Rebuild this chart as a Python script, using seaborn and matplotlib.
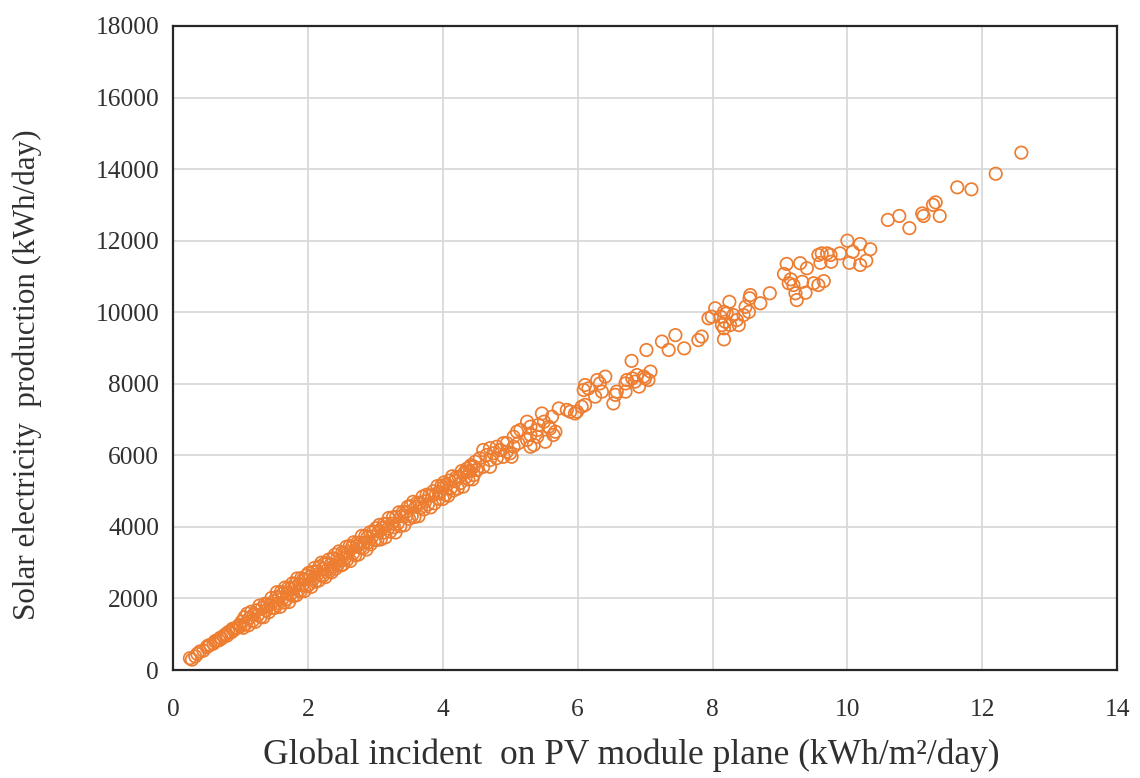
import matplotlib
matplotlib.use("Agg")
import matplotlib.pyplot as plt
import seaborn as sns
import pandas as pd

# ---- data ----
x_a = [0.25, 0.28, 0.33, 0.36, 0.40, 0.45, 0.50, 0.52, 0.55, 0.60, 0.62, 0.64, 0.68, 0.70, 0.72, 0.75, 0.78, 0.80, 0.82, 0.86,
       0.88, 0.90, 0.92, 0.95, 0.98, 1.00,
       1.02, 1.04, 1.06, 1.08, 1.10, 1.12, 1.14, 1.16, 1.18, 1.20, 1.22, 1.24, 1.26, 1.28, 1.30, 1.32, 1.34, 1.36, 1.38, 1.40,
       1.42, 1.44, 1.46, 1.48, 1.50]
y_a = [330, 290, 380, 450, 520, 540, 640, 680, 700, 740, 800, 820, 830, 900, 880, 950, 1000, 960, 1060, 1050,
       1150, 1110, 1170, 1180, 1260, 1220,
       1355, 1180, 1475, 1290, 1575, 1250, 1465, 1630, 1375, 1560, 1345, 1670, 1535, 1800, 1485, 1730, 1475, 1850, 1665, 1850,
       1615, 1830, 2015, 1740, 1925]

x_b = [1.51, 1.53, 1.54, 1.56, 1.57, 1.59, 1.60, 1.62, 1.63, 1.65, 1.66, 1.68, 1.69, 1.71, 1.72, 1.74, 1.75, 1.77, 1.78, 1.80,
       1.81, 1.83, 1.84, 1.86, 1.87, 1.89, 1.90, 1.92, 1.93, 1.95, 1.96, 1.98, 1.99,
       2.01, 2.02, 2.04, 2.05, 2.07, 2.08, 2.10, 2.11, 2.13, 2.14, 2.16, 2.17, 2.19, 2.20, 2.22, 2.23, 2.25, 2.26, 2.28, 2.29,
       2.31, 2.32, 2.34, 2.35, 2.37, 2.38, 2.40, 2.41, 2.43, 2.44, 2.46, 2.47, 2.49]
y_b = [1738, 2033, 2175, 1870, 2023, 1768, 2180, 1985, 2138, 1883, 2305, 1980, 2133, 2298, 1900, 2265, 2128, 2423, 2065, 2290,
       2403, 2088, 2560, 2225, 2408, 2193, 2565, 2370, 2533, 2208, 2530, 2645, 2348,
       2713, 2395, 2610, 2323, 2738, 2550, 2855, 2468, 2753, 2665, 2500, 2893, 2648, 3000, 2625, 2828, 2983, 2595, 2960, 2803,
       3088, 2760, 2955, 2728, 3123, 2895, 3220, 2833, 3098, 2930, 3315, 3058, 2923]

x_c = [2.51, 2.52, 2.54, 2.55, 2.57, 2.58, 2.60, 2.62, 2.63, 2.65, 2.67, 2.68, 2.70, 2.72, 2.73, 2.75, 2.77, 2.78, 2.80, 2.82,
       2.83, 2.85, 2.87, 2.88, 2.90, 2.92, 2.93, 2.95, 2.97, 2.99,
       3.01, 3.03, 3.05, 3.06, 3.08, 3.10, 3.12, 3.13, 3.15, 3.17, 3.19, 3.20, 3.22, 3.24, 3.26, 3.28, 3.30, 3.31, 3.33, 3.35,
       3.37, 3.39, 3.41, 3.43, 3.45, 3.46, 3.48, 3.50]
y_c = [3288, 2950, 3255, 3128, 3443, 3075, 3280, 3465, 3048, 3423, 3258, 3570, 3205, 3450, 3553, 3228, 3553, 3425, 3750, 3405,
       3558, 3743, 3368, 3700, 3565, 3850, 3513, 3728, 3873, 3638,
       3963, 3638, 3873, 4055, 3650, 3965, 3840, 4083, 3708, 4083, 3958, 4250, 3865, 4090, 4265, 3990, 3845, 4278, 4093, 4408,
       4023, 4298, 4413, 4048, 4413, 4305, 4560, 4225]

x_d = [3.52, 3.54, 3.56, 3.58, 3.60, 3.62, 3.64, 3.66, 3.68, 3.70, 3.72, 3.74, 3.76, 3.78, 3.80, 3.82, 3.84, 3.86, 3.88, 3.90,
       3.92, 3.94, 3.96, 3.98, 4.00, 4.00,
       4.02, 4.04, 4.06, 4.08, 4.10, 4.12, 4.14, 4.16, 4.18, 4.20, 4.22, 4.24, 4.26, 4.28, 4.30, 4.32, 4.34, 4.36, 4.38, 4.40,
       4.42, 4.44, 4.46, 4.50]
y_d = [4580, 4305, 4700, 4275, 4560, 4675, 4300, 4675, 4550, 4845, 4490, 4715, 4900, 4625, 4880, 4545, 4880, 4995, 4660, 4925,
       5140, 4785, 4970, 5155, 4780, 5090,
       5245, 4900, 5175, 4870, 5295, 5090, 5415, 5020, 5275, 5390, 5075, 5390, 5225, 5560, 5125, 5520, 5385, 5630, 5325, 5560,
       5725, 5330, 5685, 5595]

x_e = [4.48, 4.41, 4.51, 4.60, 4.36, 4.70, 4.46, 4.55, 4.60, 4.65, 4.70, 4.75, 4.80, 4.80, 4.85, 4.90, 4.90, 4.95, 4.95, 5.02,
       5.05, 5.00, 4.70,
       5.10, 5.05, 5.12, 5.25, 5.30, 5.35, 5.25, 5.30, 5.40, 5.59, 5.64, 5.52, 5.30, 5.40, 5.47, 5.62, 5.50, 5.72, 5.67, 5.57,
       5.42, 5.15,
       5.89, 5.96, 5.84, 6.06, 6.11, 5.99, 6.11, 6.16, 6.09, 6.29, 6.33, 6.36, 6.26, 6.41,
       6.53, 6.56, 6.58, 6.71, 6.73, 6.71, 6.81, 6.88, 6.98, 6.85, 6.91, 7.05, 7.00, 7.08, 6.80, 7.02,
       7.25, 7.35, 7.45, 7.58, 7.79, 7.84]
y_e = [5820, 5680, 5590, 5680, 5540, 5680, 5450, 5920, 6150, 6010, 6200, 6060, 6240, 5920, 6150, 6340, 5960, 6100, 6340, 5960,
       6240, 6060, 5870,
       6660, 6520, 6340, 6430, 6240, 6290, 6940, 6800, 6710, 6750, 6570, 6380, 6570, 6520, 7170, 7080, 6940, 7310, 6660, 6800,
       6850, 6710,
       7220, 7170, 7270, 7360, 7410, 7220, 7965, 7870, 7825, 8105, 8010, 7780, 7640, 8200,
       7450, 7690, 7780, 7780, 8105, 8010, 8150, 8245, 8200, 8060, 7920, 8105, 8150, 8340, 8640, 8944,
       9180, 8945, 9360, 8990, 9220, 9320]

x_f = [7.94, 8.04, 8.25, 8.17, 7.99, 8.12, 8.21, 8.31, 8.36, 8.19, 8.14, 8.26, 8.17, 8.39, 8.17, 8.56, 8.55, 8.71, 8.49, 8.54,
       8.46, 8.85,
       9.06, 9.16, 9.20, 9.13, 9.33, 9.50, 9.65, 9.57, 9.38, 9.23, 9.25, 9.10, 9.30, 9.40, 9.57, 9.62, 9.70, 9.75, 9.76, 9.60,
       10.00, 10.19, 10.34, 10.08, 10.03, 10.19, 10.28, 9.89,
       10.60, 10.77, 10.92, 11.11, 11.13, 11.31, 11.27, 11.37, 11.63, 11.84, 12.20, 12.58]
y_f = [9830, 10110, 10290, 10010, 9875, 9875, 9970, 9920, 9780, 9735, 9640, 9640, 9550, 9640, 9240, 10480, 10390, 10250, 10150, 10010,
       9920, 10530,
       11070, 10920, 10760, 10810, 10850, 10810, 10870, 10760, 10545, 10530, 10340, 11350, 11370, 11230, 11600, 11645, 11645, 11600, 11410, 11380,
       12000, 11906, 11760, 11690, 11380, 11320, 11440, 11645,
       12580, 12690, 12350, 12760, 12690, 13070, 13000, 12690, 13490, 13435, 13870, 14460]

x_ticks = [0, 2, 4, 6, 8, 10, 12, 14]
y_ticks = [0, 2000, 4000, 6000, 8000, 10000, 12000, 14000, 16000, 18000]

df = pd.DataFrame({
    "irr": x_a + x_b + x_c + x_d + x_e + x_f,
    "prod": y_a + y_b + y_c + y_d + y_e + y_f,
})

sns.set_theme(style="white")
plt.rcParams["font.family"] = ["Liberation Serif", "DejaVu Serif"]

TXT = "#303030"
fig = plt.figure(figsize=(11.4, 7.78), dpi=100)
ax = fig.add_axes([0.1518, 0.1388, 0.8281, 0.8278])

sns.scatterplot(data=df, x="irr", y="prod", ax=ax, marker="o", s=80,
                facecolor="none", edgecolor="#ED7D31", linewidth=1.25, zorder=3)

ax.set_xlim(0, 14)
ax.set_ylim(0, 18000)
ax.set_xticks(x_ticks)
ax.set_yticks(y_ticks)
ax.set_xticklabels([str(v) for v in x_ticks])
ax.set_yticklabels([str(v) for v in y_ticks])
ax.grid(True, color="#d9d9d9", linewidth=1.3, zorder=0)
ax.set_axisbelow(True)
for sp in ax.spines.values():
    sp.set_color("#262626")
    sp.set_linewidth(1.6)
    sp.set_visible(True)
ax.tick_params(axis="both", length=0, labelsize=18.4, colors=TXT)
ax.tick_params(axis="x", pad=21)
ax.tick_params(axis="y", pad=10)

ax.set_xlabel("Global incident  on PV module plane (kWh/m\u00b2/day)", fontsize=25.5, color=TXT)
ax.set_ylabel("Solar electricity  production (kWh/day)", fontsize=22.4, color=TXT)
ax.xaxis.set_label_coords(0.4857, -0.106)
ax.yaxis.set_label_coords(-0.139, 0.458)

fig.savefig("out.png", dpi=100)
